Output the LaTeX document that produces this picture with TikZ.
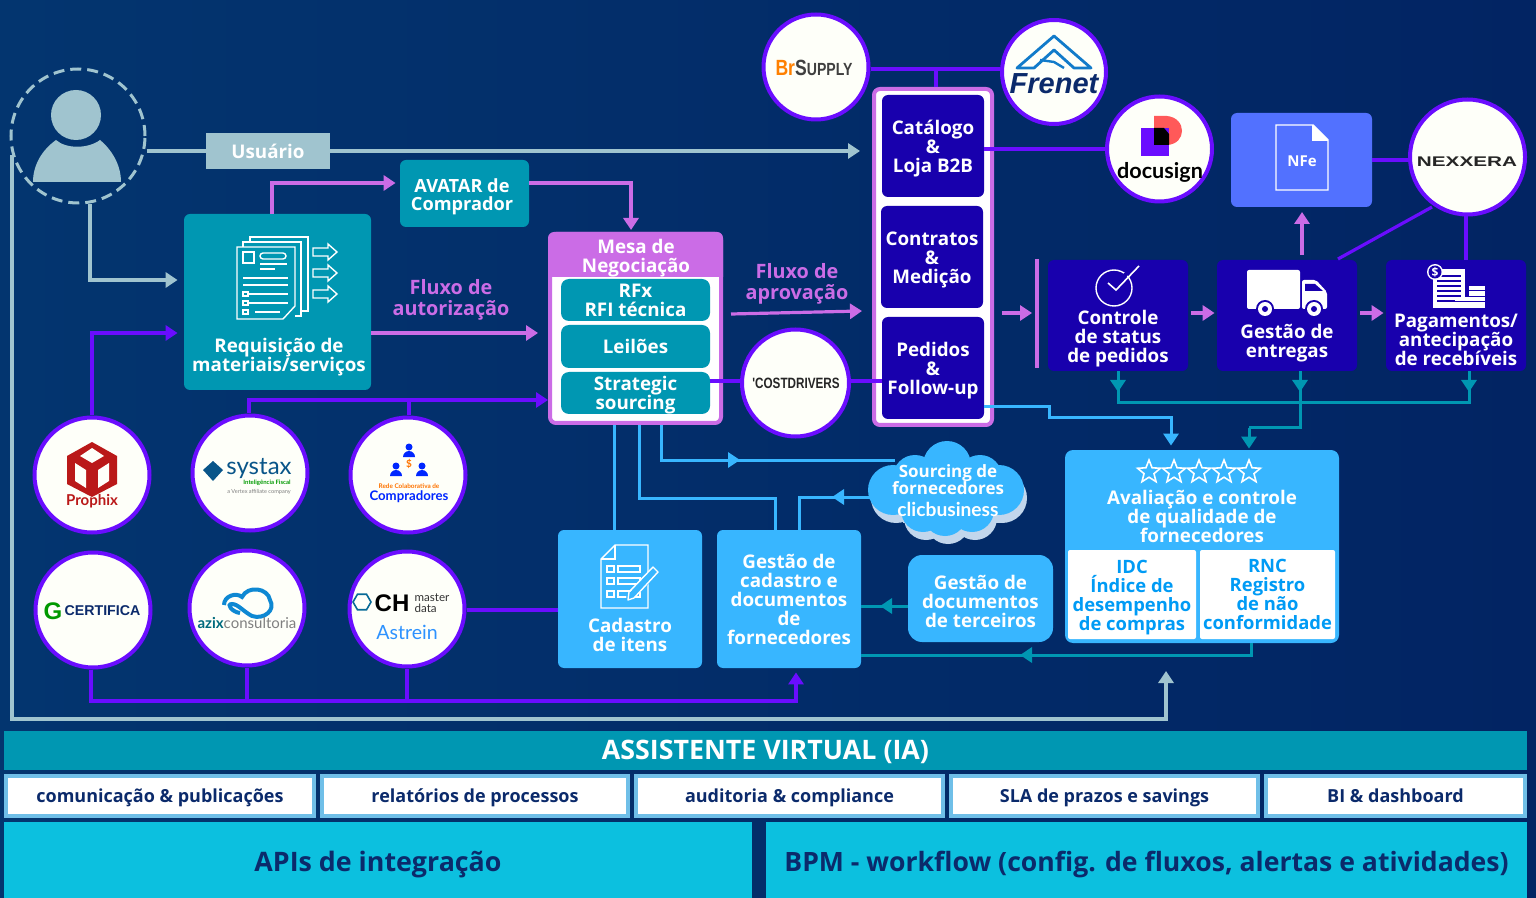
\documentclass[tikz,border=0pt]{standalone}
\usepackage{fontspec}
\usepackage{graphicx}
\setmainfont{Open Sans}
\newfontfamily\logofont{Lato}
\newfontfamily\heavyfont{Liberation Sans}
\usetikzlibrary{arrows.meta,shapes.geometric}
\lineskiplimit=-10pt
\newcommand{\up}{\rule{0pt}{9.8pt}}

\definecolor{bgleft}{HTML}{03356F}
\definecolor{bgright}{HTML}{022463}
\definecolor{tealbox}{HTML}{0097B2}
\definecolor{pinkc}{HTML}{CB6CE6}
\definecolor{violetc}{HTML}{6A0DFF}
\definecolor{indigoc}{HTML}{1800AD}
\definecolor{skyc}{HTML}{38B6FF}
\definecolor{nfec}{HTML}{5271FF}
\definecolor{userc}{HTML}{A0C4CF}
\definecolor{cyanc}{HTML}{0CC0DF}
\definecolor{rowc}{HTML}{6FBFE8}
\definecolor{navyc}{HTML}{0B2A6B}
\definecolor{ncblue}{HTML}{009BF5}
\definecolor{cloudc}{HTML}{C2D6EC}
\definecolor{logow}{HTML}{FEFFF9}

\tikzset{
    box/.style={rectangle, rounded corners=3pt, inner sep=0pt, align=center, text=white,
        font=\bfseries\fontsize{9.4}{9.5}\selectfont},
    lbl/.style={inner sep=0pt, align=center, text=white, font=\bfseries\fontsize{9.4}{9.5}\selectfont},
    pinktxt/.style={lbl, text=pinkc, font=\bfseries\fontsize{9.9}{10.5}\selectfont},
    logo/.style={circle, draw=violetc, fill=logow, line width=2pt, inner sep=0pt},
    tip/.style={-{Triangle[width=7.5pt,length=6pt]}},
    userline/.style={draw=userc, line width=1.6pt},
    pinkline/.style={draw=pinkc, line width=1.6pt},
    vline/.style={draw=violetc, line width=1.6pt},
    skyline/.style={draw=skyc, line width=1.5pt},
    tealline/.style={draw=tealbox, line width=1.5pt},
    ink/.style={draw=white, line width=0.7pt, fill=none}
}

\begin{document}
\begin{tikzpicture}[x=0.5pt,y=-0.5pt]
    \shade[left color=bgleft, right color=bgright] (0,0) rectangle (1536,898);
    \useasboundingbox (0,0) rectangle (1536,898);

    % usuario
    \node[circle, draw=userc, line width=1.5pt, dash pattern=on 5.5pt off 3pt, minimum size=67pt, inner sep=0pt] (User) at (78,136) {};
    \fill[userc] (76,115) circle (25);
    \fill[userc] (33,182) .. controls (33,165) and (42,150) .. (56,140) .. controls (66,149) and (88,149) .. (100,140) .. controls (112,150) and (121,165) .. (121,182) -- cycle;
    \node[box, rounded corners=0pt, fill=userc, minimum width=62pt, minimum height=18pt, text height=8pt, text depth=0pt] (Usr) at (268,151) {Usuário};

    % requisicao
    \node[box, fill=tealbox, minimum width=64.5pt, minimum height=33.5pt] (Ava) at (464.5,193.5) {};
    \node[lbl, font=\bfseries\fontsize{9.1}{9}\selectfont] (AvaT) at (462,194) {\up AVATAR de\\Comprador};
    \node[box, fill=tealbox, minimum width=93.5pt, minimum height=88pt] (Req) at (277.5,302) {};
    \node[lbl] (ReqT) at (279,354) {\up Requisição de\\materiais/serviços};
    \draw[ink] (250,237) rectangle (308,311);
    \fill[tealbox] (243,242) rectangle (301,316);
    \draw[ink] (243,242) rectangle (301,316);
    \fill[tealbox] (237,247) rectangle (295,319);
    \draw[ink] (237,319) -- (237,247) -- (295,247) -- (295,306) -- (283,319) -- cycle;
    \draw[ink] (243,252) rectangle (254,263);
    \draw[ink, rounded corners=1.5pt] (260,253) rectangle (286,259);
    \foreach \y/\a/\b in {264/260/287, 269/260/275, 278/243/288, 285/243/288, 294/247/288, 303/247/288, 312/255/280}
        \draw[ink] (\a,\y) -- (\b,\y);
    \foreach \y in {294,303,312}
        \draw[ink] (243,\y-2) rectangle (248,\y+2);
    \foreach \y in {252,273,294}
        \draw[ink] (313,\y-4) -- (328,\y-4) -- (328,\y-8) -- (337,\y) -- (328,\y+8) -- (328,\y+4) -- (313,\y+4) -- cycle;

    % mesa
    \node[box, fill=white, draw=pinkc, line width=2pt, minimum width=85.5pt, minimum height=94.5pt] (Mesa) at (635.5,328.5) {};
    \fill[pinkc] (548,277) [rounded corners=3pt]-- (548,232) -- (723,232) [sharp corners]-- (723,277) -- cycle;
    \node[lbl] (MesaT) at (636,255) {\up Mesa de\\Negociação};
    \node[box, rounded corners=4pt, fill=tealbox, minimum width=74.5pt, minimum height=21pt] (Rfx) at (635.5,300) {RFx\\RFI técnica};
    \node[box, rounded corners=4pt, fill=tealbox, minimum width=74.5pt, minimum height=21.5pt] (Lei) at (635.5,346.5) {Leilões};
    \node[box, rounded corners=4pt, fill=tealbox, minimum width=74.5pt, minimum height=21pt] (Str) at (635.5,393) {};
    \node[lbl] (StrT) at (635.5,392) {\up Strategic\\sourcing};

    % coluna central
    \node[box, fill=white, draw=pinkc, line width=2pt, minimum width=59pt, minimum height=168pt] (Col) at (933,257) {};
    \node[box, fill=indigoc, minimum width=51pt, minimum height=51pt] (Cat) at (933,146) {\up Catálogo\\\&\\Loja B2B};
    \node[box, fill=indigoc, minimum width=51pt, minimum height=51pt] (Con) at (932,257) {\up Contratos\\\&\\Medição};
    \node[box, fill=indigoc, minimum width=51pt, minimum height=51pt] (Ped) at (933,368) {\up Pedidos\\\&\\Follow-up};

    % logos
    \node[logo, minimum size=52.5pt] (Brs) at (816,67) {};
    \node[inner sep=0pt, font=\heavyfont\bfseries\fontsize{10}{10}\selectfont] (BrsT) at (814,68) {\scalebox{.88}[1.1]{\textcolor{orange}{Br}\textcolor{darkgray}{S\fontsize{8}{8}\selectfont UPPLY}}};
    \node[logo, minimum size=52pt] (Fre) at (1054,72) {};
    \draw[draw=cyan!60!blue, line width=1.4pt, line join=round] (1017,68) -- (1054,36) -- (1091,68) -- (1074,68) -- (1054,50) -- (1034,68) -- cycle;
    \draw[draw=cyan!60!blue, line width=1.2pt] (1040,60) -- (1054,62) -- (1064,68);
    \node[inner sep=0pt, text=navyc, font=\heavyfont\bfseries\itshape\fontsize{14.5}{14.5}\selectfont] (FreT) at (1054,84) {Frenet};
    \node[logo, minimum size=52.5pt] (Doc) at (1159.5,149) {};
    \fill[red!65!white] (1154,116) -- (1167,116) .. controls (1187,118) and (1187,144) .. (1167,145) -- (1154,145) -- cycle;
    \fill[violetc] (1141,128) rectangle (1169,156);
    \fill[black] (1154,128) -- (1164,128) -- (1169,134) -- (1169,145) -- (1154,145) -- cycle;
    \node[inner sep=0pt, font=\logofont\bfseries\fontsize{10.8}{10.8}\selectfont] (DocT) at (1160,172) {docusign};
    \node[logo, minimum size=57.5pt] (Nex) at (1467.5,157) {};
    \node[inner sep=0pt, text=black!85, font=\heavyfont\bfseries\fontsize{7}{7}\selectfont] (NexT) at (1467,162) {\scalebox{1.48}[1]{NEXXERA}};
    \node[logo, minimum size=53.5pt] (Cos) at (795.5,383) {};
    \node[inner sep=0pt, text=black!85, font=\heavyfont\bfseries\fontsize{6.5}{6.5}\selectfont] (CosT) at (796,383) {\scalebox{.9}[1.15]{'COSTDRIVERS}};

    \node[logo, minimum size=57.5pt] (Pro) at (92,475) {};
    \fill[red!70!black!90] (92,442) -- (117,456) -- (117,484) -- (92,497) -- (67,484) -- (67,456) -- cycle;
    \fill[logow] (92,448) -- (104,456) -- (92,463) -- (80,456) -- cycle;
    \fill[logow] (75,463) -- (86,470) -- (86,488) -- (75,481) -- cycle;
    \fill[logow] (109,463) -- (98,470) -- (98,488) -- (109,481) -- cycle;
    \node[inner sep=0pt, text=red!70!black!90, font=\logofont\bfseries\fontsize{7.5}{7.5}\selectfont] (ProT) at (92,501) {Prophix};
    \node[logo, minimum size=57.5pt] (Sys) at (250,473) {};
    \fill[navyc!80!cyan] (203,470) -- (213,461) -- (223,470) -- (213,481) -- cycle;
    \node[inner sep=0pt, text=navyc!80!cyan, font=\logofont\fontsize{12}{12}\selectfont] (SysT) at (259,469) {systax};
    \node[inner sep=0pt, text=green!60!black, font=\logofont\bfseries\fontsize{3}{3}\selectfont] (SysI) at (267,483) {Inteligência Fiscal};
    \node[inner sep=0pt, text=gray, font=\logofont\fontsize{2.8}{3}\selectfont] (SysV) at (259,492) {a Vertex affiliate company};
    \node[logo, minimum size=57.5pt] (Rede) at (408,475) {};
    \foreach \x/\y in {409/451, 396/470, 422/470} {
        \fill[blue!85!cyan] (\x,\y-4) circle (3.5);
        \fill[blue!85!cyan] (\x-6,\y+6) arc (180:360:6) -- cycle;
    }
    \node[inner sep=0pt, text=orange!90!red, font=\logofont\bfseries\fontsize{5}{5}\selectfont] (RedeS) at (409,464) {\$};
    \node[inner sep=0pt, text=orange!90!red, font=\logofont\bfseries\fontsize{3.2}{3.2}\selectfont] (RedeT) at (409,486) {Rede Colaborativa de};
    \node[inner sep=0pt, text=blue!85!cyan, font=\logofont\bfseries\fontsize{6.6}{6.6}\selectfont] (RedeC) at (409,497) {Compradores};
    \node[logo, minimum size=57.5pt] (Cer) at (93,610) {};
    \node[inner sep=0pt, text=green!60!black, font=\heavyfont\bfseries\fontsize{12}{12}\selectfont] (CerG) at (53,611) {G};
    \node[inner sep=0pt, text=navyc, font=\heavyfont\bfseries\fontsize{7.1}{7.1}\selectfont] (CerT) at (102.5,611) {CERTIFICA};
    \node[logo, minimum size=57.5pt] (Azi) at (247,608) {};
    \draw[draw=cyan!70!blue, line width=2pt] (224,605) .. controls (224,596) and (236,592) .. (242,597) .. controls (248,585) and (268,588) .. (270,600) .. controls (276,610) and (264,620) .. (252,616) .. controls (244,612) and (238,604) .. (232,604) .. controls (226,604) and (232,612) .. (240,613);
    \node[inner sep=0pt, font=\logofont\fontsize{7.5}{7.5}\selectfont] (AziT) at (247,623) {\textcolor{tealbox!70!black}{\bfseries azix}\textcolor{gray}{consultoria}};
    \node[logo, minimum size=57.5pt] (Chm) at (407,609) {};
    \node[regular polygon, regular polygon sides=6, draw=navyc!70!cyan, line width=0.8pt, minimum size=9pt, inner sep=0pt] (ChmH) at (362,602) {};
    \node[inner sep=0pt, font=\heavyfont\bfseries\fontsize{12}{12}\selectfont] (ChmT) at (392,603) {CH};
    \node[inner sep=0pt, align=left, text=black!80, font=\logofont\fontsize{5.8}{5.6}\selectfont] (ChmD) at (432,603) {master\\data};
    \node[inner sep=0pt, text=skyc!80!blue, font=\logofont\fontsize{9.8}{9.8}\selectfont] (ChmA) at (407,632) {Astrein};

    % nfe e pedidos
    \node[box, fill=nfec, minimum width=70.5pt, minimum height=47pt] (Nfe) at (1301.5,160) {};
    \draw[ink] (1276,125) -- (1313,125) -- (1328,140) -- (1328,190) -- (1276,190) -- cycle;
    \draw[ink] (1313,125) -- (1313,140) -- (1328,140);
    \fill[white] (1313,125) -- (1328,140) -- (1313,140) -- cycle;
    \node[lbl, font=\bfseries\fontsize{7.5}{7.5}\selectfont] (NfeT) at (1302,161) {NFe};
    \node[box, fill=indigoc, minimum width=70pt, minimum height=55.5pt] (Ctl) at (1118,315.5) {};
    \node[box, fill=indigoc, minimum width=70pt, minimum height=55.5pt] (Ent) at (1287,315.5) {};
    \node[box, fill=indigoc, minimum width=70pt, minimum height=55.5pt] (Pag) at (1456,315.5) {};
    \node[lbl] (CtlT) at (1118,336) {\up Controle\\de status\\de pedidos};
    \node[lbl] (EntT) at (1287,340) {\up Gestão de\\entregas};
    \node[lbl] (PagT) at (1456,337) {\up Pagamentos/\\antecipação\\de recebíveis};
    \draw[ink] (1114,288) circle (18);
    \draw[draw=indigoc, line width=2pt] (1120,280) -- (1139,262);
    \draw[ink, line width=0.8pt] (1108,283) -- (1116,290) -- (1139,266);
    \fill[white, rounded corners=1pt] (1247,270) rectangle (1300,309);
    \fill[white, rounded corners=1pt] (1302,309) -- (1302,280) -- (1316,280) -- (1327,292) -- (1327,309) -- cycle;
    \fill[indigoc] (1305,284) -- (1315,284) -- (1323,291) -- (1305,291) -- cycle;
    \foreach \x in {1265,1314} {
        \fill[indigoc] (\x,309) circle (9);
        \fill[white] (\x,309) circle (7);
        \fill[indigoc] (\x,309) circle (3);
    }
    \fill[white] (1433,269) rectangle (1465,308);
    \foreach \y in {276,281,286,291,296,301}
        \draw[indigoc, line width=0.6pt] (1437,\y) -- (1461,\y);
    \fill[white] (1435,272) circle (8);
    \fill[indigoc] (1435,272) circle (6.5);
    \node[inner sep=0pt, text=white, font=\bfseries\fontsize{6}{6}\selectfont] (PagS) at (1435,272) {\$};
    \fill[white] (1469,286) rectangle (1485,308);
    \fill[white] (1455,297) rectangle (1470,308);
    \foreach \y in {291,297,302}
        \draw[indigoc, line width=0.5pt] (1469,\y) -- (1485,\y);
    \draw[indigoc, line width=0.5pt] (1455,302) -- (1470,302);

    % avaliacao
    \node[box, rounded corners=4pt, fill=skyc, minimum width=137pt, minimum height=96.5pt] (Aval) at (1202,546.5) {};
    \foreach \x in {1149,1174,1199,1224,1249}
        \node[star, star points=5, star point ratio=2.3, draw=white, line width=0.8pt, minimum size=12pt, inner sep=0pt] at (\x,472) {};
    \node[lbl] (AvalT) at (1202,514) {\up Avaliação e controle\\de qualidade de\\fornecedores};
    \node[box, rounded corners=1pt, fill=white, text=ncblue, minimum width=64pt, minimum height=44.5pt, font=\bfseries\fontsize{9.2}{9.4}\selectfont] (Idc) at (1132,594.5) {\up IDC\\Índice de\\desempenho\\de compras};
    \node[box, rounded corners=1pt, fill=white, text=ncblue, minimum width=67.5pt, minimum height=44.5pt, font=\bfseries\fontsize{9.2}{9.4}\selectfont] (Rnc) at (1267.5,594.5) {RNC\\Registro\\de não\\conformidade};

    % cadastros
    \node[box, fill=skyc, minimum width=72pt, minimum height=69pt] (Itn) at (630,599) {};
    \node[lbl] (ItnT) at (630,632) {\up Cadastro\\de itens};
    \draw[ink] (615,545) -- (648,545) -- (648,608) -- (601,608) -- (601,559) -- cycle;
    \draw[ink] (615,545) -- (615,559) -- (601,559);
    \foreach \y in {569,581,594} {
        \draw[ink] (607,\y-3) rectangle (614,\y+3);
        \draw[ink] (618,\y-3) rectangle (640,\y+3);
    }
    \fill[skyc] (630,602) -- (626,597) -- (652,568) -- (659,574) -- cycle;
    \draw[ink, line join=round] (629,592) -- (653,567) -- (658,572) -- (634,598) -- (628,600) -- cycle;
    \node[box, fill=skyc, minimum width=72pt, minimum height=69pt] (For) at (789,599) {Gestão de\\cadastro e\\documentos\\de\\fornecedores};
    \node[box, rounded corners=7pt, fill=skyc, minimum width=72.5pt, minimum height=43.5pt] (Ter) at (980.5,598.5) {\up Gestão de\\documentos\\de terceiros};

    % nuvem
    \foreach \dx/\dy/\c in {3/8/cloudc, 0/0/skyc} {
        \fill[\c] (\dx+900,\dy+465) rectangle (\dx+1000,\dy+515);
        \foreach \x/\y/\r in {947/465/24, 915/477/22, 980/477/22, 893/490/25, 999/490/25, 923/510/22, 945/514/22, 972/510/22}
            \fill[\c] (\x+\dx,\y+\dy) circle (\r);
    }
    \node[lbl, font=\bfseries\fontsize{8.5}{8.5}\selectfont] (NuvT) at (948,480) {Sourcing de\\fornecedores};
    \node[inner sep=0pt, text=white, font=\logofont\bfseries\fontsize{9.6}{9.6}\selectfont] (NuvC) at (948,509) {clicbusiness};

    % faixas
    \node[box, rounded corners=0pt, fill=tealbox, minimum width=761.5pt, minimum height=19.5pt, text height=8.5pt, text depth=0pt, font=\bfseries\fontsize{13.4}{13.4}\selectfont] (Ia) at (765.5,750.5) {ASSISTENTE VIRTUAL (IA)};
    \foreach \x/\w/\t [count=\i] in {160/154/comunicação \& publicações, 475/153/relatórios de processos, 789.5/153.5/auditoria \& compliance, 1104.5/153.5/SLA de prazos e savings, 1395.5/129.5/BI \& dashboard}
        \node[box, rounded corners=0pt, fill=white, draw=rowc, line width=2pt, text=navyc, minimum width=\w pt, minimum height=20pt, text height=6pt, text depth=0pt, font=\bfseries\fontsize{9}{9}\selectfont] (Row\i) at (\x,796) {\t};
    \node[box, rounded corners=0pt, fill=cyanc, text=navyc, minimum width=374pt, minimum height=38pt, text height=11pt, text depth=0pt, font=\bfseries\fontsize{13.4}{14}\selectfont] (Api) at (378,860) {APIs de integração};
    \node[box, rounded corners=0pt, fill=cyanc, text=navyc, minimum width=380.5pt, minimum height=38pt, text height=11pt, text depth=0pt, font=\bfseries\fontsize{13.3}{14}\selectfont] (Bpm) at (1146.5,860) {BPM - workflow (config. de fluxos, alertas e atividades)};

    \node[pinktxt] (Faut) at (451,298) {\up Fluxo de\\autorização};
    \node[pinktxt] (Fapr) at (797,282) {\up Fluxo de\\aprovação};

    % conectores usuario
    \coordinate (U1) at (90,280);
    \coordinate (U2) at (860,151);
    \coordinate (U3) at (12,155);
    \coordinate (U4) at (12,719);
    \coordinate (U5) at (1166,719);
    \coordinate (U6) at (1166,671);
    \draw[userline] (User.east |- U2) -- (Usr.west);
    \draw[userline, tip] (Usr.east) -- (U2);
    \draw[userline, tip, shorten >=3pt] (User.south -| U1) |- (Req.west |- U1);
    \draw[userline, tip] (U3) -- (U4) -- (U5) -- (U6);

    % conectores rosa
    \coordinate (P1) at (272,183);
    \coordinate (P2) at (631,183);
    \coordinate (P3) at (371,333);
    \coordinate (P4) at (731,314);
    \coordinate (P5) at (862,311);
    \coordinate (P6) at (1002,313);
    \coordinate (P7) at (1032,313);
    \coordinate (P8) at (1037,259);
    \coordinate (P9) at (1037,368);
    \coordinate (P10) at (1302,212);
    \draw[pinkline, tip, shorten >=2pt] (Req.north -| P1) |- (Ava.west |- P1);
    \draw[pinkline, tip, shorten >=1pt] (Ava.east |- P1) -| (Mesa.north -| P2);
    \draw[pinkline, tip, shorten >=5pt] (Req.east |- P3) -- (Mesa.west |- P3);
    \draw[pinkline, tip] (P4) -- (P5);
    \draw[pinkline, tip] (P6) -- (P7);
    \draw[pinkline] (P8) -- (P9);
    \draw[pinkline, tip, shorten <=1.5pt, shorten >=1pt] (Ctl.east |- P7) -- (Ent.west |- P7);
    \draw[pinkline, tip, shorten <=1.5pt, shorten >=1pt] (Ent.east |- P7) -- (Pag.west |- P7);
    \draw[pinkline, tip, shorten <=2.5pt] (Ent.north -| P10) -- (P10);

    % conectores violeta
    \coordinate (V1) at (92,333);
    \coordinate (V2) at (249,400);
    \coordinate (V3) at (409,400);
    \coordinate (V4) at (91,701);
    \coordinate (V5) at (247,701);
    \coordinate (V6) at (407,701);
    \coordinate (V7) at (796,701);
    \coordinate (V8) at (936,69);
    \coordinate (V9) at (1466,260);
    \coordinate (V10) at (1338,259);
    \coordinate (V11) at (1432,207);
    \coordinate (V12) at (742,381);
    \coordinate (V13) at (500,610);
    \draw[vline, tip, shorten >=3pt] (Pro.north -| V1) |- (Req.west |- V1);
    \draw[vline, tip] (Sys.north -| V2) |- (Mesa.west |- V2);
    \draw[vline] (Rede.north -| V3) -- (V3);
    \draw[vline, tip, shorten >=2pt] (Cer.south -| V4) |- (V7) -- (For.south -| V7);
    \draw[vline] (Azi.south -| V5) -- (V5);
    \draw[vline] (Chm.south -| V6) -- (V6);
    \draw[vline] (Chm.east |- V13) -- (Itn.west |- V13);
    \draw[vline] (Brs.east |- V8) -- (Fre.west |- V8);
    \draw[vline] (V8) -- (Col.north -| V8);
    \draw[vline] (Cat.east |- Doc.west) -- (Doc.west);
    \draw[vline] (Nfe.east) -- (Nex.west |- Nfe.east);
    \draw[vline] (V10) -- (V11);
    \draw[vline] (Nex.south -| V9) -- (V9);
    \draw[vline] (Str.east |- V12) -- (Cos.west |- V12);
    \draw[vline] (Cos.east |- V12) -- (Ped.west |- V12);

    % conectores azul
    \coordinate (B1) at (614,460);
    \coordinate (B2) at (639,498);
    \coordinate (B3) at (775,498);
    \coordinate (B4) at (661,460);
    \coordinate (B5) at (895,460);
    \coordinate (B6) at (740,460);
    \coordinate (B7) at (799,497);
    \coordinate (B8) at (832,497);
    \coordinate (B9) at (1049,407);
    \coordinate (B10) at (1171,418);
    \draw[skyline] (Mesa.south -| B1) -- (Itn.north -| B1);
    \draw[skyline] (Mesa.south -| B2) |- (B3) -- (For.north -| B3);
    \draw[skyline] (Mesa.south -| B4) |- (B5);
    \draw[skyline, tip] (B4) -- (B6);
    \draw[skyline] (For.north -| B7) |- (NuvT.west |- B7);
    \draw[skyline, tip] (NuvT.west |- B7) -- (B8);
    \draw[skyline, tip, shorten >=2pt] (Ped.east |- B9) -- (B9) |- (B10) -- (Aval.north -| B10);

    % conectores teal
    \coordinate (T1) at (1118,403);
    \coordinate (T2) at (1469,403);
    \coordinate (T3) at (1300,428);
    \coordinate (T4) at (1249,428);
    \coordinate (T5) at (1251,655);
    \coordinate (T6) at (1020,655);
    \coordinate (T7) at (880,606);
    \draw[tealline, tip] (Ctl.south -| T1) -- (1118,392);
    \draw[tealline, tip] (Ent.south -| T3) -- (1300,392);
    \draw[tealline, tip] (Pag.south -| T2) -- (1469,392);
    \draw[tealline] (Ctl.south -| T1) |- (T2) -- (Pag.south -| T2);
    \draw[tealline] (Ent.south -| T3) -- (T3) -- (T4);
    \draw[tealline, tip, shorten >=0.5pt] (T4) -- (Aval.north -| T4);
    \draw[tealline] (Aval.south -| T5) |- (For.east |- T5);
    \draw[tealline, tip] (T5) -- (T6);
    \draw[tealline] (Ter.west |- T7) -- (For.east |- T7);
    \draw[tealline, tip] (Ter.west |- T7) -- (T7);
\end{tikzpicture}
\end{document}
